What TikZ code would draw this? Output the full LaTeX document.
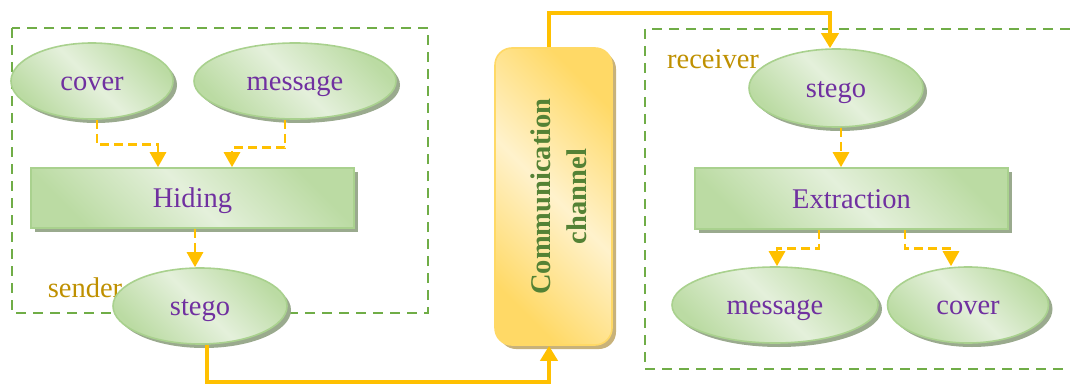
\documentclass[tikz,border=0pt]{standalone}
\usepackage{fontspec}
\setmainfont{Liberation Serif}
\usetikzlibrary{shapes.geometric,shadows,arrows.meta,calc}

\definecolor{leafdark}{HTML}{BBDBA3}
\definecolor{leaflight}{HTML}{E4F0DB}
\definecolor{leafline}{HTML}{A9D18E}
\definecolor{leafshadow}{HTML}{9AAA8E}
\definecolor{sunDark}{HTML}{FFD966}
\definecolor{sunLight}{HTML}{FFF2CC}
\definecolor{sunShadow}{HTML}{C8B27A}
\definecolor{framegreen}{HTML}{70AD47}
\definecolor{flowyellow}{HTML}{FFC000}
\definecolor{inkpurple}{HTML}{7030A0}
\definecolor{inkgold}{HTML}{BF9000}
\definecolor{inkgreen}{HTML}{548235}

\tikzset{
  txt/.style={font=\fontsize{28.5}{33}\selectfont},
  leaf/.style={txt, text=inkpurple, draw=leafline, line width=1.6pt,
    text height=21pt, text depth=2pt,
    top color=leafdark, bottom color=leafdark, middle color=leaflight,
    shading angle=-45, inner sep=0pt,
    drop shadow={shadow xshift=4pt, shadow yshift=-4pt, fill=leafshadow, opacity=1}},
  oval/.style={leaf, ellipse},
  stepbox/.style={leaf, rectangle},
  chan/.style={txt, text=inkgreen, font=\fontsize{28.5}{38}\selectfont\bfseries,
    draw=sunDark, line width=1.6pt, rounded corners=17pt,
    top color=sunDark, bottom color=sunDark, middle color=sunLight,
    shading angle=-45, inner sep=0pt,
    drop shadow={shadow xshift=4pt, shadow yshift=-4pt, fill=sunShadow, opacity=1}},
  frame/.style={draw=framegreen, line width=2.2pt, dash pattern=on 10pt off 7pt},
  role/.style={txt, text=inkgold},
  dflow/.style={draw=flowyellow, line width=2.8pt, dash pattern=on 9pt off 5pt,
    -{Triangle[width=16pt,length=15pt]}},
  sflow/.style={draw=flowyellow, line width=4.2pt,
    -{Triangle[width=17pt,length=15pt]}},
}

\begin{document}
\begin{tikzpicture}[x=1pt,y=-1pt]
\useasboundingbox (0,0) rectangle (1070,385);

% group frames
\draw[frame] (12,28) rectangle (428,313);
\draw[frame] (1070,29) -- (645,29) -- (645,369) -- (1070,369);
\node[role] (senderlbl) at (85,288) {sender};
\node[role] (receiverlbl) at (713,59) {receiver};

% sender side
\node[oval, minimum width=162pt, minimum height=76pt] (cover1) at (92,81) {cover};
\node[oval, minimum width=202pt, minimum height=76pt] (msg1) at (295,81) {message};
\node[stepbox, minimum width=323pt, minimum height=60pt] (hiding) at (192.5,198) {Hiding};
\node[oval, minimum width=174pt, minimum height=76pt] (stego1) at (200,306) {stego};

% channel
\node[chan, minimum width=117pt, minimum height=297pt] (channel) at (553.5,196.5)
  {\hspace*{14pt}\rotatebox{90}{\begin{tabular}{@{}c@{}}Communication\\[-2pt] channel\end{tabular}}};

% receiver side
\node[oval, minimum width=174pt, minimum height=78pt] (stego2) at (836,88) {stego};
\node[stepbox, minimum width=313pt, minimum height=61pt] (extraction) at (851.5,198.5) {Extraction};
\node[oval, minimum width=206pt, minimum height=76pt] (msg2) at (775,305) {message};
\node[oval, minimum width=161pt, minimum height=76pt] (cover2) at (968,305) {cover};

% embedding flow
\draw[dflow] ([xshift=5pt]cover1.south) -- ++(0,25) -| ([xshift=-34.5pt]hiding.north);
\draw[dflow] ([xshift=-10pt]msg1.south) -- ++(0,28) -| ([xshift=39.5pt]hiding.north);
\draw[dflow] ([xshift=2.5pt]hiding.south) -- ([xshift=2.5pt]hiding.south |- stego1.north);

% transmission
\draw[sflow] ([xshift=7pt]stego1.south) -- ++(0,37) -| ([xshift=-4.5pt]channel.south);
\draw[sflow] ([xshift=-4.5pt]channel.north) -- ++(0,-34) -| ([xshift=-6pt]stego2.north);

% extraction flow
\draw[dflow] ([xshift=5pt]stego2.south) -- ([xshift=5pt]stego2.south |- extraction.north);
\draw[dflow] ([xshift=-32.5pt]extraction.south) -- ++(0,19) -| ([xshift=2pt]msg2.north);
\draw[dflow] ([xshift=53.5pt]extraction.south) -- ++(0,19) -| ([xshift=-17pt]cover2.north);
\end{tikzpicture}
\end{document}
